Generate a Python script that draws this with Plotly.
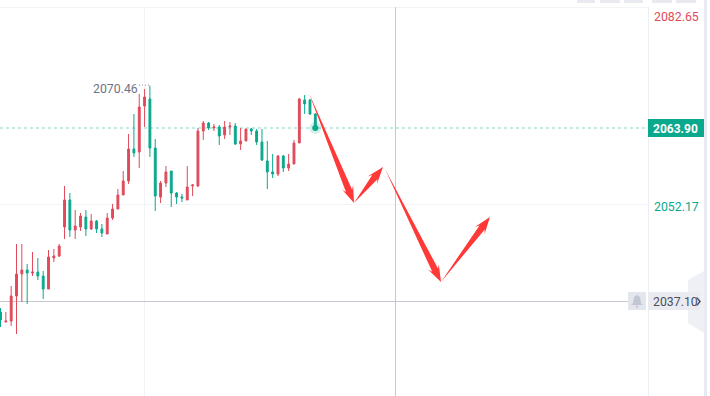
import plotly.graph_objects as go

W, H = 710, 396
# pixel <-> value calibration of the chart axes
BAR_PX, BAR0_PX = 5.336, 0.5
REF_PRICE, REF_PX, PRICE_PER_PX = 2063.90, 128, 0.1549

bar_index = list(range(60))
opens = [2035.40,2033.85,2034.00,2037.88,2041.28,2041.90,2041.44,2041.59,2040.97,2038.96,2043.76,2044.07,2048.56,2052.75,2048.10,2048.56,2050.11,2048.26,2049.49,2048.26,2047.48,2049.96,2051.35,2053.52,2055.69,2060.65,2060.18,2067.31,2068.39,2060.80,2053.21,2055.38,2057.24,2053.83,2053.21,2052.75,2054.92,2054.92,2063.44,2064.67,2063.90,2064.05,2062.82,2064.05,2064.21,2061.42,2061.89,2063.75,2063.44,2061.73,2058.79,2057.08,2056.77,2059.56,2057.70,2058.32,2061.58,2068.24,2068.24,2066.07]
highs = [2036.02,2035.40,2039.43,2045.93,2045.93,2042.83,2044.69,2043.76,2041.75,2045.00,2045.16,2045.93,2054.92,2053.83,2051.20,2050.73,2051.20,2050.58,2049.65,2049.03,2050.73,2052.13,2054.45,2057.24,2062.97,2066.07,2069.17,2069.94,2070.46,2062.20,2055.69,2058.01,2057.24,2053.99,2053.68,2058.01,2055.23,2063.90,2064.98,2064.83,2064.52,2064.36,2064.98,2064.83,2064.67,2063.90,2063.75,2063.90,2063.75,2063.75,2061.89,2059.87,2059.72,2059.72,2059.87,2062.04,2068.55,2069.01,2068.39,2066.22]
lows = [2033.07,2033.85,2033.23,2031.99,2036.95,2036.64,2040.97,2040.36,2037.41,2038.96,2043.14,2043.92,2046.71,2047.02,2046.71,2047.95,2047.17,2048.10,2047.64,2047.02,2047.48,2049.65,2051.35,2053.52,2055.23,2059.41,2057.70,2064.05,2059.41,2051.04,2052.28,2054.76,2051.66,2052.13,2052.44,2052.75,2053.37,2054.76,2062.04,2063.59,2063.44,2061.27,2062.20,2062.82,2061.27,2060.49,2061.89,2062.82,2061.27,2058.79,2054.45,2056.16,2056.46,2057.08,2057.24,2058.32,2061.58,2066.07,2065.91,2063.90]
closes = [2034.16,2034.00,2037.88,2041.28,2041.90,2041.44,2041.59,2040.97,2038.96,2043.92,2044.07,2045.62,2052.75,2048.10,2048.72,2050.27,2048.26,2049.49,2048.26,2047.64,2049.96,2051.35,2053.52,2055.69,2060.65,2060.03,2067.15,2068.70,2060.80,2053.37,2055.38,2057.08,2053.83,2053.21,2053.06,2054.76,2055.07,2063.44,2064.67,2063.90,2064.05,2062.66,2064.05,2064.21,2061.42,2061.89,2063.75,2063.44,2061.73,2058.94,2057.08,2056.77,2059.56,2057.70,2058.32,2061.58,2068.39,2067.62,2066.07,2063.90]

high_label, low_label = "2082.65", "2052.17"
last_price, last_label = 2063.90, "2063.90"
alert_price, alert_label = 2037.10, "2037.10"
peak_price, peak_label, peak_bar = 2070.46, "2070.46", 28
# drawn wave arrows: (bar index, price) start -> tip
arrow_starts = [(57.8, 2069.32), (66.25, 2052.28), (72.06, 2057.55), (82.55, 2040.05)]
arrow_tips = [(66.25, 2052.28), (71.68, 2057.86), (82.55, 2040.05), (91.73, 2050.11)]

UP, DOWN = "#e04a5a", "#0aa88d"
TEXT, GRID = "#6f7484", "#f2f3f6"


def xpx(i):
    return BAR0_PX + BAR_PX * i


def ypx(p):
    return REF_PX + (REF_PRICE - p) / PRICE_PER_PX


fig = go.Figure()
fig.add_trace(go.Candlestick(
    x=bar_index, open=opens, high=highs, low=lows, close=closes,
    increasing=dict(line=dict(color=UP, width=1), fillcolor=UP),
    decreasing=dict(line=dict(color=DOWN, width=1), fillcolor=DOWN),
    whiskerwidth=0, showlegend=False, hoverinfo="skip",
))

shapes = []


def rect(x0, y0, x1, y1, fill, layer="below"):
    shapes.append(dict(type="rect", xref="paper", yref="paper", x0=x0 / W, x1=x1 / W,
                       y0=1 - y0 / H, y1=1 - y1 / H, fillcolor=fill, line_width=0, layer=layer))


def line(x0, y0, x1, y1, color, dash="solid", width=1, layer="below"):
    shapes.append(dict(type="line", xref="paper", yref="paper", x0=x0 / W, x1=x1 / W,
                       y0=1 - y0 / H, y1=1 - y1 / H, line=dict(color=color, width=width, dash=dash), layer=layer))


def path(points, fill, layer="above"):
    d = "M" + " L".join(f"{x / W:.5f},{1 - y / H:.5f}" for x, y in points) + " Z"
    shapes.append(dict(type="path", xref="paper", yref="paper", path=d, fillcolor=fill, line_width=0, layer=layer))


# grid and scale frame
line(0, 7.5, 648, 7.5, GRID)
line(144.5, 7, 144.5, H, GRID)
line(648.5, 7, 648.5, H, "#eceef2")
line(0, 204.5, 648, 204.5, GRID)
rect(704, 0, 707, H, "#e9ebf2")
# crosshair
line(395.5, 7, 395.5, H, "#c6c7d2")
line(0, 301.5, 628, 301.5, "#c6c7d2")
# last price line
line(0, ypx(last_price), 648, ypx(last_price), "#c4eae3", dash="3px,3px", width=2)
# peak marker
line(139, ypx(peak_price) - 0.5, 151, ypx(peak_price) - 0.5, "#8a8fa0", dash="1px,2px")
# top toolbar pills
for x0, x1 in [(577, 595), (600, 620), (624, 643), (652, 672), (676, 696)]:
    rect(x0, -4, x1, 3, "#e8eaf0")
# collapse handle
path([(688, 280), (704, 271), (704, 333), (688, 323)], "#eef0f5", "below")
# price tags
rect(648, 119, 704, 137, "#0aa88d", "above")
rect(648, 292, 700, 310, "#e9ebf1", "above")
rect(628, 292, 646, 310, "#e4e6ee", "above")
# bell
path([(637, 295), (640, 297), (641, 303), (643, 305), (631, 305), (633, 303), (634, 297)], "#c3c6d2")
path([(636, 305.5), (638, 305.5), (638, 307.5), (636, 307.5)], "#c3c6d2")
# chevron on the alert tag
path([(696, 297.5), (697.6, 297.5), (701, 301.5), (697.6, 305.5), (696, 305.5), (699, 301.5)], "#4c4f5c")


def arrow(start, tip):
    sx, sy, tx, ty = xpx(start[0]), ypx(start[1]), xpx(tip[0]), ypx(tip[1])
    dx, dy = tx - sx, ty - sy
    n = (dx ** 2 + dy ** 2) ** 0.5
    ux, uy = dx / n, dy / n
    px, py = -uy, ux
    head, barb, neck, back = 17, 6, 3.3, 13
    nx, ny = tx - ux * back, ty - uy * back
    bx, by = tx - ux * head, ty - uy * head
    path([(sx, sy), (nx + px * neck, ny + py * neck), (bx + px * barb, by + py * barb), (tx, ty),
          (bx - px * barb, by - py * barb), (nx - px * neck, ny - py * neck)], "#ff3838")


for s, t in zip(arrow_starts, arrow_tips):
    arrow(s, t)

fig.add_trace(go.Scatter(x=[59], y=[last_price], mode="markers", showlegend=False, hoverinfo="skip",
                         marker=dict(size=12, color="rgba(10,168,141,0.18)", line_width=0)))
fig.add_trace(go.Scatter(x=[59], y=[last_price], mode="markers", showlegend=False, hoverinfo="skip",
                         marker=dict(size=6, color="#0aa88d", line_width=0)))


def label(x, y, text, color, anchor="center", size=12, weight=400):
    fig.add_annotation(xref="paper", yref="paper", x=x / W, y=1 - y / H, text=text, showarrow=False,
                       xanchor=anchor, yanchor="middle", borderpad=0,
                       font=dict(family="Roboto, Arial, sans-serif", size=size, color=color, weight=weight))


label(676, 17, high_label, "#e04a5a", size=12.3)
label(676, 207, low_label, "#0aa88d", size=12.3)
label(675.5, 128.5, last_label, "#ffffff", weight=700)
label(675.5, 301.5, alert_label, "#4c4f5c", size=12.3)
label(139, 88.5, peak_label, TEXT, anchor="right", size=12.3)

fig.update_layout(
    width=W, height=H, margin=dict(l=0, r=0, t=0, b=0), paper_bgcolor="#ffffff", plot_bgcolor="rgba(0,0,0,0)",
    shapes=shapes, showlegend=False, boxgap=0.5,
    xaxis=dict(range=[-BAR0_PX / BAR_PX, (W - BAR0_PX) / BAR_PX], visible=False, rangeslider_visible=False, fixedrange=True),
    yaxis=dict(range=[REF_PRICE - (H - REF_PX) * PRICE_PER_PX, REF_PRICE + REF_PX * PRICE_PER_PX], visible=False, fixedrange=True),
)
fig.write_html("out.html", config=dict(displayModeBar=False),
               post_script="document.body.style.margin='0';document.body.style.overflow='hidden';")
